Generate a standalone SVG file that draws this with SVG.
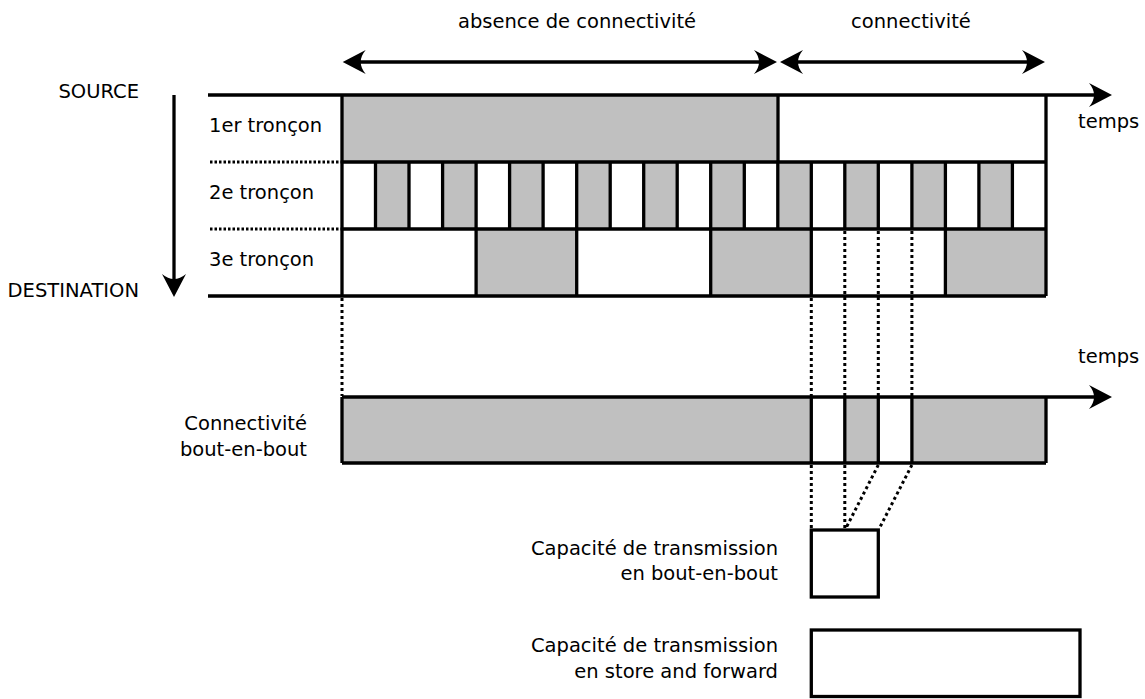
<svg xmlns="http://www.w3.org/2000/svg" width="1145" height="699" viewBox="0 0 1145 699">
<style>
.t{font-family:"DejaVu Sans","Liberation Sans",sans-serif;font-size:19.5px;fill:#000}
.e{text-anchor:end}
.m{text-anchor:middle}
.g{fill:#c0c0c0;stroke:none}
.w{fill:#fff;stroke:none}
.ln{stroke:#000;stroke-width:3.3;fill:none}
.dh{stroke:#000;stroke-width:2.8;fill:none;stroke-dasharray:2.5 2}
.dv{stroke:#000;stroke-width:3;fill:none;stroke-dasharray:3 3}
.box{fill:#fff;stroke:#000;stroke-width:3.3}
</style>
<defs>
<marker id="ah" viewBox="-15 -13 26 26" refX="0" refY="0" markerWidth="26" markerHeight="26" markerUnits="userSpaceOnUse" orient="auto-start-reverse">
<path d="M10,0 L-13,-12 Q-3,0 -13,12 Z" fill="#000"/>
</marker>
</defs>
<rect width="1145" height="699" fill="#fff"/>

<g id="labels">
<text class="t m" x="577" y="28">absence de connectivité</text>
<text class="t m" x="911" y="28">connectivité</text>
<text class="t e" x="139" y="98">SOURCE</text>
<text class="t e" x="139" y="297">DESTINATION</text>
<text class="t" x="1078" y="128">temps</text>
<text class="t" x="1078" y="363">temps</text>
</g>

<g id="row1">
<rect class="g" x="342" y="95" width="436" height="67"/>
<text class="t" x="209" y="132">1er tronçon</text>
<path class="ln" d="M778,95 V162"/>
</g>

<g id="row2">
<rect class="g" x="375.5" y="162" width="33.5" height="67"/>
<rect class="g" x="442.6" y="162" width="33.5" height="67"/>
<rect class="g" x="509.6" y="162" width="33.5" height="67"/>
<rect class="g" x="576.7" y="162" width="33.5" height="67"/>
<rect class="g" x="643.7" y="162" width="33.5" height="67"/>
<rect class="g" x="710.7" y="162" width="33.5" height="67"/>
<rect class="g" x="777.8" y="162" width="33.5" height="67"/>
<rect class="g" x="844.8" y="162" width="33.5" height="67"/>
<rect class="g" x="911.9" y="162" width="33.5" height="67"/>
<rect class="g" x="978.9" y="162" width="33.5" height="67"/>
<text class="t" x="209" y="199">2e tronçon</text>
<path class="ln" d="M375.5,162V229M409,162V229M442.6,162V229M476.1,162V229M509.6,162V229M543.1,162V229M576.7,162V229M610.2,162V229M643.7,162V229M677.2,162V229M710.7,162V229M744.3,162V229M777.8,162V229M811.3,162V229M844.8,162V229M878.3,162V229M911.9,162V229M945.4,162V229M978.9,162V229M1012.4,162V229"/>
</g>

<g id="row3">
<rect class="g" x="476.1" y="229" width="100.6" height="67"/>
<rect class="g" x="710.7" y="229" width="100.6" height="67"/>
<rect class="g" x="945.4" y="229" width="100.6" height="67"/>
<text class="t" x="209" y="266">3e tronçon</text>
<path class="ln" d="M476.1,229V296M576.7,229V296M710.7,229V296M811.3,229V296M945.4,229V296"/>
</g>

<g id="frame">
<path class="ln" d="M342,162H1046M342,229H1046M208,296H1046M342,95V296M1046,95V296"/>
<path class="dh" d="M210,162H341M210,229H341"/>
</g>

<g id="e2e-bar">
<rect class="g" x="342" y="397" width="469.3" height="66"/>
<rect class="g" x="844.8" y="397" width="33.5" height="66"/>
<rect class="g" x="911.9" y="397" width="134.1" height="66"/>
<text class="t e" x="307" y="430">Connectivité</text>
<text class="t e" x="307" y="456">bout-en-bout</text>
<path class="ln" d="M342,463H1046M342,397V463M811.3,397V463M844.8,397V463M878.3,397V463M911.9,397V463M1046,397V463"/>
</g>

<g id="box-e2e">
<rect class="box" x="811.3" y="530" width="67" height="67"/>
<text class="t e" x="778" y="555">Capacité de transmission</text>
<text class="t e" x="778" y="580">en bout-en-bout</text>
</g>

<g id="box-saf">
<rect class="box" x="811.3" y="630" width="268.7" height="66.5"/>
<text class="t e" x="778" y="652">Capacité de transmission</text>
<text class="t e" x="778" y="678">en store and forward</text>
</g>

<g id="connectors">
<path class="ln" d="M352.7,62H767" marker-start="url(#ah)" marker-end="url(#ah)"/>
<path class="ln" d="M790,62H1035" marker-start="url(#ah)" marker-end="url(#ah)"/>
<path class="ln" d="M208,95H1102" marker-end="url(#ah)"/>
<path class="ln" d="M342,397H1102" marker-end="url(#ah)"/>
<path class="ln" d="M174,95V287" marker-end="url(#ah)"/>
<path class="dv" d="M342,298V396M811.3,298V396M844.8,231V396M878.3,231V396M911.9,231V396"/>
<path class="dv" d="M811.3,465V529M844.8,465V529M878.3,465L845.5,529M911.9,465L879,529"/>
</g>
</svg>
